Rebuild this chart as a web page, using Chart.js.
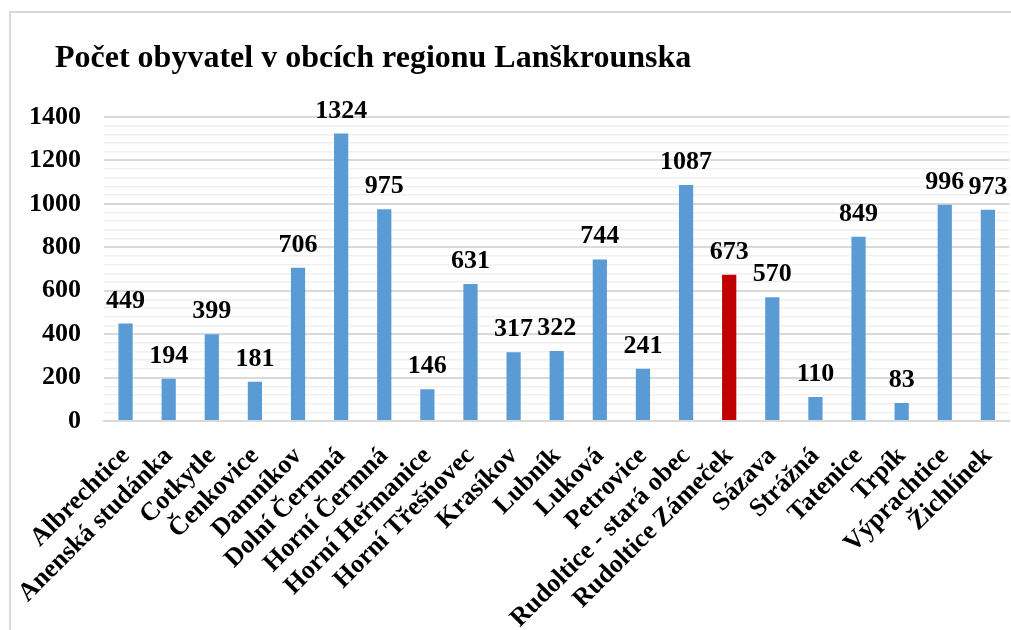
<!DOCTYPE html>
<html lang="cs">
<head>
<meta charset="utf-8">
<title>Počet obyvatel v obcích regionu Lanškrounska</title>
<script src="https://cdn.jsdelivr.net/npm/chart.js@4.4.0/dist/chart.umd.min.js"></script>
<style>
    body { margin: 0; overflow: hidden; background: #fff; }
    #frame { position: absolute; left: 9px; top: 11px; width: 1100px; height: 700px;
             border-left: 2px solid #d9d9d9; border-top: 2px solid #d9d9d9; }
    #obyvatele { position: absolute; left: 0; top: 0; }
</style>
</head>
<body>
<div id="frame"></div>
<canvas id="obyvatele" width="1030" height="630"></canvas>
<script>
const obce = ["Albrechtice", "Anenská studánka", "Cotkytle", "Čenkovice", "Damníkov",
    "Dolní Čermná", "Horní Čermná", "Horní Heřmanice", "Horní Třešňovec", "Krasíkov",
    "Lubník", "Luková", "Petrovice", "Rudoltice - stará obec", "Rudoltice Zámeček",
    "Sázava", "Strážná", "Tatenice", "Trpík", "Výprachtice", "Žichlínek"];
const obyvatel = [449, 194, 399, 181, 706, 1324, 975, 146, 631, 317, 322, 744, 241,
    1087, 673, 570, 110, 849, 83, 996, 973];
const zvyraznena = ["Rudoltice Zámeček"];

const majorTicks = [0, 200, 400, 600, 800, 1000, 1200, 1400];
const pismo = "'Liberation Serif', 'Times New Roman', serif";

const barvy = obce.map(o => zvyraznena.includes(o) ? '#C00000' : '#5B9BD5');

// popisky hodnot nad sloupci
const hodnotyPlugin = {
    id: 'hodnoty',
    afterLayout(chart) {
        // nadpis je v originale odsazen vic nez osa
        if (chart.titleBlock) chart.titleBlock.left = 55;
    },
    afterDatasetsDraw(chart) {
        const ctx = chart.ctx;
        const meta = chart.getDatasetMeta(0);
        ctx.save();
        ctx.font = 'bold 26px ' + pismo;
        ctx.fillStyle = '#000';
        ctx.textAlign = 'center';
        ctx.textBaseline = 'alphabetic';
        meta.data.forEach((bar, i) => {
            ctx.fillText(String(obyvatel[i]), bar.x, bar.y - 16);
        });
        ctx.restore();
    }
};

new Chart(document.getElementById('obyvatele').getContext('2d'), {
    type: 'bar',
    data: {
        labels: obce,
        datasets: [{
            data: obyvatel,
            backgroundColor: barvy,
            borderWidth: 0,
            barPercentage: 0.33,
            categoryPercentage: 1
        }]
    },
    options: {
        responsive: false,
        animation: false,
        layout: { padding: { left: 25, right: 2, top: 0, bottom: 0 } },
        plugins: {
            legend: { display: false },
            tooltip: { enabled: false },
            title: {
                display: true,
                text: 'Počet obyvatel v obcích regionu Lanškrounska',
                align: 'start',
                color: '#000',
                font: { family: pismo, size: 32, weight: 'bold' },
                padding: { top: 40, bottom: 38.6 }
            }
        },
        scales: {
            x: {
                grid: { display: false, drawTicks: false },
                border: { color: '#d9d9d9', width: 2 },
                ticks: {
                    color: '#000',
                    font: { family: pismo, size: 26, weight: 'bold' },
                    minRotation: 45,
                    maxRotation: 45,
                    autoSkip: false,
                    padding: 20
                },
                afterFit(scale) { scale.height = 209; }
            },
            y: {
                min: 0,
                max: 1400,
                border: { display: false },
                grid: {
                    drawTicks: false,
                    color: c => majorTicks.includes(c.tick.value) ? '#d9d9d9' : '#f0f0f0',
                    lineWidth: c => majorTicks.includes(c.tick.value) ? 2 : 1.5
                },
                ticks: {
                    stepSize: 40,
                    autoSkip: false,
                    color: '#000',
                    padding: 23,
                    font: { family: pismo, size: 26, weight: 'bold' },
                    callback: v => majorTicks.includes(v) ? String(v) : ''
                },
                afterFit(scale) { scale.width = 79; }
            }
        }
    },
    plugins: [hodnotyPlugin]
});
</script>
</body>
</html>
